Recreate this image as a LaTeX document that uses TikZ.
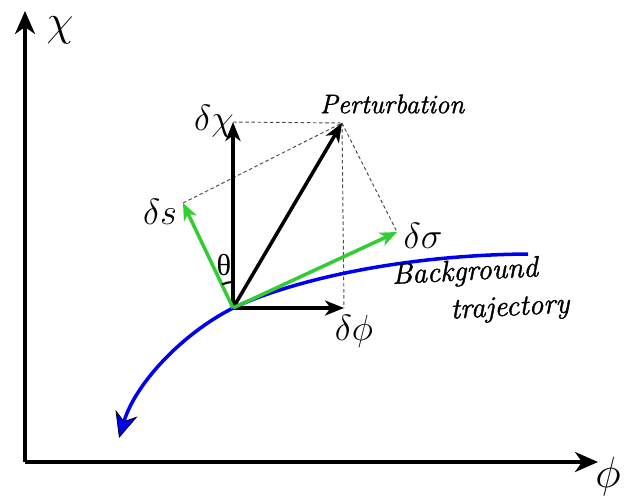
\documentclass[tikz,border=0pt]{standalone}
\usepackage{amsmath,amssymb}
\usepackage{fontspec}
\newfontfamily\upnote{Liberation Serif}
\newfontfamily\itnote{Latin Modern Roman}[FakeBold=1.3]
\usepackage{tikz}
\usetikzlibrary{arrows.meta}
\definecolor{trajblue}{RGB}{0,0,240}
\definecolor{rotgreen}{RGB}{50,205,50}

\begin{document}
\begin{tikzpicture}[x=0.02cm, y=0.02cm,
  axis/.style={-{Stealth[length=4.6mm, width=4mm, inset=1.4mm]}, line width=1.9pt},
  vec/.style={-{Stealth[length=3.8mm, width=3mm, inset=1.1mm]}, line width=2pt},
  gvec/.style={-{Stealth[length=3.4mm, width=2.8mm, inset=1mm]}, line width=2pt,
               color=rotgreen},
  proj/.style={dash pattern=on 2pt off 1.5pt, line width=0.55pt, color=gray!60!black},
  traj/.style={-{Stealth[length=5.2mm, width=4.6mm, inset=1.7mm, color=black, fill=trajblue,
               line width=0.4pt]}, color=trajblue, line width=2pt},
  lbl/.style={font=\huge, inner sep=1pt},
  note/.style={font=\fontsize{15.3}{17}\selectfont\itnote\itshape, inner sep=0pt}
]
\useasboundingbox (0,0) rectangle (641,495);

% ── Points ────────────────────────────
\coordinate (ax0)  at (25,33);
\coordinate (axY)  at (25,484);
\coordinate (axX)  at (598,33);
\coordinate (O)    at (233,187);
\coordinate (dchi) at (233,373);
\coordinate (dphi) at (344,187);
\coordinate (pert) at (342,372);
\coordinate (ds)   at (183,292);
\coordinate (dsig) at (397,263);
\coordinate (trS)  at (528,241);
\coordinate (trE)  at (119,57);

% ── Axes ──────────────────────────────
\draw[axis] (ax0) -- (axY);
\draw[axis] (ax0) -- (axX);
\node[font=\Huge, inner sep=0pt] (chiL) at (60,465) {$\chi$};
\node[font=\Huge, inner sep=0pt] (phiL) at (608,18) {$\phi$};

% ── Projections ───────────────────────
\draw[proj] (dchi) -- (pert);
\draw[proj] (pert) -- (dphi);
\draw[proj] (ds) -- (pert);
\draw[proj] (pert) -- (dsig);

% ── Background trajectory ─────────────
\draw[traj] (trS) .. controls (400,240) and (290,214) .. (O)
            .. controls (180,160) and (135,110) .. (trE);
\node[note, font=\fontsize{16.7}{18}\selectfont\itnote\itshape, rotate=3]
  (bgL) at (465,222) {Background};
\node[note, font=\fontsize{16.7}{18}\selectfont\itnote\itshape, rotate=3]
  (trL) at (510,186) {trajectory};

% ── Perturbation in (phi, chi) ────────
\draw[vec] (O) -- (dchi);
\draw[vec] (O) -- (dphi);
\draw[vec] (O) -- (pert);
\node[lbl]  (dchiL) at (214,374) {$\delta\chi$};
\node[lbl]  (dphiL) at (354,164) {$\delta\phi$};
\node[note] (pertL) at (392,391) {Perturbation};

% ── Rotated basis (sigma, s) ──────────
\draw[gvec] (O) -- (ds);
\draw[gvec] (O) -- (dsig);
\node[lbl] (dsL)   at (160,283) {$\delta s$};
\node[lbl] (dsigL) at (423,259) {$\delta\sigma$};
\draw[line width=1.2pt] (O) ++(90:26) arc[start angle=90, end angle=115, radius=26];
\node[font=\LARGE\upnote] (thetaL) at (224,230) {θ};

\end{tikzpicture}
\end{document}
